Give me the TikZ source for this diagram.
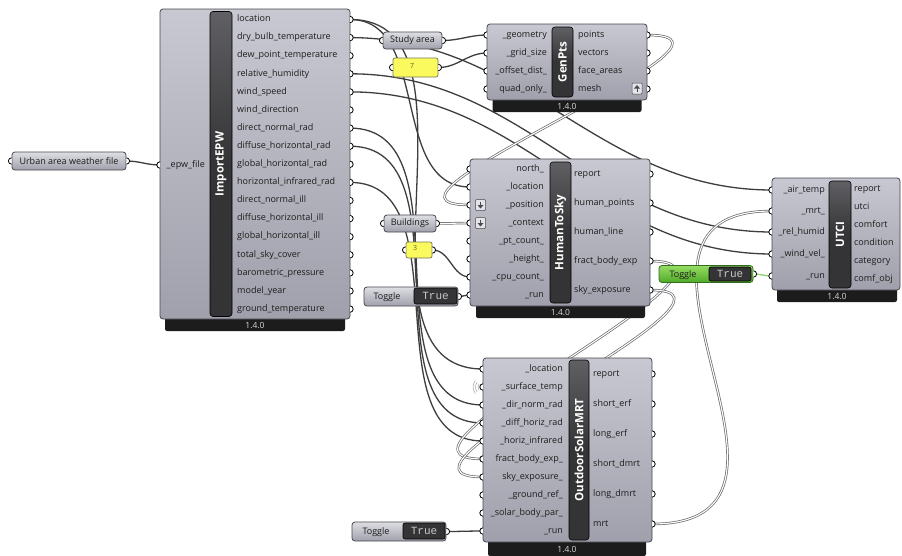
\documentclass[tikz,border=0pt]{standalone}
\usepackage{fontspec}
\setmainfont{Open Sans}
\newfontfamily\togglefont{Liberation Mono}
\usetikzlibrary{positioning,arrows.meta,calc}
\definecolor{GHTop}{RGB}{200,200,210}
\definecolor{GHBot}{RGB}{160,160,172}
\definecolor{GHEdge}{RGB}{72,72,78}
\definecolor{GHBar}{RGB}{52,52,54}
\definecolor{GHBarTop}{RGB}{96,96,100}
\definecolor{GHTab}{RGB}{28,28,28}
\definecolor{GHTabText}{RGB}{215,215,215}
\definecolor{GHText}{RGB}{28,28,28}
\definecolor{GHWire}{RGB}{62,62,62}
\definecolor{GHList}{RGB}{105,105,110}
\definecolor{GHWireless}{RGB}{160,160,160}
\definecolor{PanelYellow}{RGB}{250,250,95}
\definecolor{PanelEdge}{RGB}{120,120,90}
\definecolor{PanelText}{RGB}{95,105,20}
\definecolor{TrueGray}{RGB}{200,200,200}
\definecolor{GreenTop}{RGB}{150,220,100}
\definecolor{GreenBot}{RGB}{80,170,40}
\definecolor{GreenEdge}{RGB}{50,110,30}
\definecolor{GreenWire}{RGB}{140,210,100}
\newcommand{\portfont}{\fontsize{9}{10}\selectfont}
\pgfdeclarelayer{bg}
\pgfdeclarelayer{wires}
\pgfsetlayers{bg,wires,main}

\begin{document}
\begin{tikzpicture}[x=1pt, y=-1pt,
  every node/.style={inner sep=0pt, text=GHText},
  comp/.style={draw=GHEdge, line width=0.8pt, rounded corners=3pt, top color=GHTop, bottom color=GHBot},
  compbar/.style={draw=black, line width=0.6pt, rounded corners=3pt, top color=GHBarTop, bottom color=GHBar, middle color=GHBar},
  comptab/.style={fill=GHTab, rounded corners=2pt},
  barname/.style={rotate=90, text=white, font=\bfseries\fontsize{11.5}{12}\selectfont},
  version/.style={anchor=base, text=GHTabText, font=\fontsize{8.5}{9}\selectfont},
  inport/.style={anchor=east, font=\portfont, text height=6.5pt, text depth=2pt},
  outport/.style={anchor=west, font=\portfont, text height=6.5pt, text depth=2pt},
  param/.style={draw=GHEdge, line width=0.8pt, rounded corners=3pt, top color=GHTop!60!white, bottom color=GHBot, font=\portfont},
  panel/.style={draw=PanelEdge, line width=0.7pt, rounded corners=2pt, fill=PanelYellow},
  panelnum/.style={text=PanelText, font=\fontsize{7}{8}\selectfont},
  truebox/.style={fill=GHBar, draw=black, line width=0.6pt, rounded corners=2pt, text=TrueGray, font=\togglefont\fontsize{11}{12}\selectfont},
  flaticon/.style={draw=GHEdge, line width=0.5pt, rounded corners=1pt, fill=GHTop!50!white, minimum width=10, minimum height=11},
  wire/.style={draw=GHWire, line width=1.3pt, out=0, in=180},
  listwire/.style={wire, draw=GHList, line width=0.7pt, double=white, double distance=1.1pt},
  ingrip/.pic={\filldraw[fill=white, draw=black, line width=0.8pt] (0,3.2) arc (90:270:3.2);},
  outgrip/.pic={\filldraw[fill=white, draw=black, line width=0.8pt] (0,3.2) arc (90:-90:3.2);},
  downarrow/.pic={\draw[GHEdge, line width=1pt] (0,-3.5) -- (0,1);
    \fill[GHEdge] (-3,0) -- (3,0) -- (0,3.5) -- cycle;},
]
\begin{pgfonlayer}{bg}
  \fill[white] (0,0) rectangle (902,555);
\end{pgfonlayer}
\useasboundingbox (0,0) rectangle (902,555);

% ImportEPW
\node[comptab, minimum width=180, minimum height=18] (epw-tab) at (255,322) {};
\node[version] at (255,328.5) {1.4.0};
\node[comp, minimum width=190, minimum height=310] (epw) at (255,164) {};
\node[compbar, minimum width=22, minimum height=305] (epw-bar) at (221,164) {};
\node[barname] at (epw-bar) {ImportEPW};
\node[inport] at (205,165) {\_epw\_file};
\coordinate (epw-in) at (160,165);
\pic at (epw-in) {ingrip};
\foreach \t [count=\i] in {location, dry\_bulb\_temperature, dew\_point\_temperature, relative\_humidity,
    wind\_speed, wind\_direction, direct\_normal\_rad, diffuse\_horizontal\_rad, global\_horizontal\_rad,
    horizontal\_infrared\_rad, direct\_normal\_ill, diffuse\_horizontal\_ill, global\_horizontal\_ill,
    total\_sky\_cover, barometric\_pressure, model\_year, ground\_temperature} {
  \node[outport] at (237,1.4+18.1*\i) {\t};
  \coordinate (epw-o\i) at (350,1.4+18.1*\i);
  \pic at (epw-o\i) {outgrip};
}

% GenPts
\node[comptab, minimum width=149, minimum height=18] (gen-tab) at (567,103) {};
\node[version] at (567,109.5) {1.4.0};
\node[comp, minimum width=160, minimum height=76] (gen) at (567,62) {};
\node[compbar, minimum width=21, minimum height=70] (gen-bar) at (562.5,62) {};
\node[barname] at (gen-bar) {GenPts};
\foreach \t [count=\i] in {\_geometry, \_grid\_size, \_offset\_dist\_, quad\_only\_} {
  \node[inport] at (547,17+18*\i) {\t};
  \coordinate (gen-i\i) at (487,17+18*\i);
  \pic at (gen-i\i) {ingrip};
}
\foreach \t [count=\i] in {points, vectors, face\_areas, mesh} {
  \node[outport] at (578,17+18*\i) {\t};
  \coordinate (gen-o\i) at (647,17+18*\i);
  \pic at (gen-o\i) {outgrip};
}
\node[flaticon] (gen-simp) at (637,88.5) {};
\pic[rotate=180] at (gen-simp) {downarrow};

% HumanToSky
\node[comptab, minimum width=169, minimum height=18] (hts-tab) at (560.5,309) {};
\node[version] at (560.5,315.5) {1.4.0};
\node[comp, minimum width=180, minimum height=147] (hts) at (560,232.5) {};
\node[compbar, minimum width=21, minimum height=141] (hts-bar) at (560.5,232.5) {};
\node[barname] at (hts-bar) {HumanToSky};
\foreach \t [count=\i] in {north\_, \_location, \_position, \_context, \_pt\_count\_, \_height\_, \_cpu\_count\_, \_run} {
  \node[inport] at (544,151+18*\i) {\t};
  \coordinate (hts-i\i) at (470,151+18*\i);
  \pic at (hts-i\i) {ingrip};
}
\foreach \t [count=\i] in {report, human\_points, human\_line, fract\_body\_exp, sky\_exposure} {
  \node[outport] at (574,145+29*\i) {\t};
  \coordinate (hts-o\i) at (650,145+29*\i);
  \pic at (hts-o\i) {outgrip};
}
\foreach \n/\y in {pos/205, ctx/223} {
  \node[flaticon] (hts-flat-\n) at (480.5,\y) {};
  \pic at (hts-flat-\n) {downarrow};
}

% UTCI
\node[comptab, minimum width=120, minimum height=18] (utci-tab) at (837,293) {};
\node[version] at (837,299.5) {1.4.0};
\node[comp, minimum width=128, minimum height=112] (utci) at (836,234) {};
\node[compbar, minimum width=22, minimum height=107] (utci-bar) at (840,234.5) {};
\node[barname] at (utci-bar) {UTCI};
\foreach \t/\y [count=\i] in {\_air\_temp/190, \_mrt\_/211, \_rel\_humid/232, \_wind\_vel\_/254, \_run/276} {
  \node[inport] at (825,\y) {\t};
  \coordinate (utci-i\i) at (772,\y);
  \pic at (utci-i\i) {ingrip};
}
\foreach \t [count=\i] in {report, utci, comfort, condition, category, comf\_obj} {
  \node[outport] at (854,171+18*\i) {\t};
}

% OutdoorSolarMRT
\node[comptab, minimum width=158, minimum height=18] (osm-tab) at (567,547) {};
\node[version] at (567,552.5) {1.4.0};
\node[comp, minimum width=169, minimum height=184] (osm) at (567.5,450) {};
\node[compbar, minimum width=20, minimum height=180] (osm-bar) at (579,450) {};
\node[barname] at (osm-bar) {OutdoorSolarMRT};
\foreach \t [count=\i] in {\_location, \_surface\_temp, \_dir\_norm\_rad, \_diff\_horiz\_rad, \_horiz\_infrared,
    fract\_body\_exp\_, sky\_exposure\_, \_ground\_ref\_, \_solar\_body\_par\_, \_run} {
  \node[inport] at (563,351+18*\i) {\t};
  \coordinate (osm-i\i) at (483,351+18*\i);
  \pic at (osm-i\i) {ingrip};
}
\foreach \t [count=\i] in {report, short\_erf, long\_erf, short\_dmrt, long\_dmrt, mrt} {
  \node[outport] at (593,344+30*\i) {\t};
  \coordinate (osm-o\i) at (652,344+30*\i);
  \pic at (osm-o\i) {outgrip};
}
\foreach \r in {5,7.5,10}
  \draw[GHWireless, line width=0.5pt] ($(osm-i2)+(140:\r)$) arc (140:220:\r);

% parameters, panels and toggles
\node[param, minimum width=114, minimum height=18] (weather) at (69,161) {Urban area weather file};
\node[param, minimum width=59, minimum height=17] (study) at (412.5,40.5) {Study area};
\node[param, minimum width=52, minimum height=17] (buildings) at (410,223.5) {Buildings};
\foreach \p in {weather, study, buildings} {
  \pic at (\p.west) {ingrip};
  \pic at (\p.east) {outgrip};
}
\node[panel, minimum width=45, minimum height=19] (gridsize) at (415.5,67.5) {};
\node[panelnum] at (412,65.5) {7};
\node[panel, minimum width=26, minimum height=16] (cpus) at (419,250) {};
\node[panelnum] at (415,248) {3};
\foreach \p in {gridsize, cpus} {
  \pic at (\p.west) {ingrip};
  \pic at (\p.east) {outgrip};
}
\node[param, minimum width=94, minimum height=19] (tog-hts) at (411,296.5) {};
\node[font=\portfont] at (387,297.5) {Toggle};
\node[truebox, minimum width=43, minimum height=16] at (435.5,296) {True};
\node[param, minimum width=94, minimum height=19] (tog-osm) at (399,531.5) {};
\node[font=\portfont] at (376,532.5) {Toggle};
\node[truebox, minimum width=42, minimum height=16] at (424,531) {True};
\node[param, draw=GreenEdge, top color=GreenTop, bottom color=GreenBot, minimum width=94, minimum height=17] (tog-utci) at (706,274) {};
\node[font=\portfont] at (683,275) {Toggle};
\node[truebox, minimum width=42, minimum height=14] at (730,274) {True};
\foreach \p in {tog-hts, tog-osm, tog-utci}
  \pic at (\p.east) {outgrip};

% connections
\begin{pgfonlayer}{wires}
  \draw[wire] (weather.east) to (epw-in);
  \draw[wire] (epw-o1) to (hts-i2);
  \draw[wire] (epw-o1) to (osm-i1);
  \draw[wire] (epw-o2) to (utci-i1);
  \draw[wire] (epw-o4) to (utci-i3);
  \draw[wire] (epw-o5) to (utci-i4);
  \draw[wire] (epw-o7) to (osm-i3);
  \draw[wire] (epw-o8) to (osm-i4);
  \draw[wire] (epw-o10) to (osm-i5);
  \draw[wire] (study.east) to (gen-i1);
  \draw[wire] (gridsize.east) to (gen-i2);
  \draw[wire] (cpus.east) to (hts-i7);
  \draw[wire] (tog-hts.east) to (hts-i8);
  \draw[wire] (tog-osm.east) to (osm-i10);
  \draw[wire, draw=GreenWire] (tog-utci.east) to (utci-i5);
  \draw[listwire, looseness=1.4] (gen-o1) to (hts-i3);
  \draw[listwire] (buildings.east) to (hts-i4);
  \draw[listwire, looseness=1.3] (hts-o4) to (osm-i6);
  \draw[listwire, looseness=1.3] (hts-o5) to (osm-i7);
  \draw[listwire, looseness=1.5] (osm-o6) to (utci-i2);
\end{pgfonlayer}
\end{tikzpicture}
\end{document}
